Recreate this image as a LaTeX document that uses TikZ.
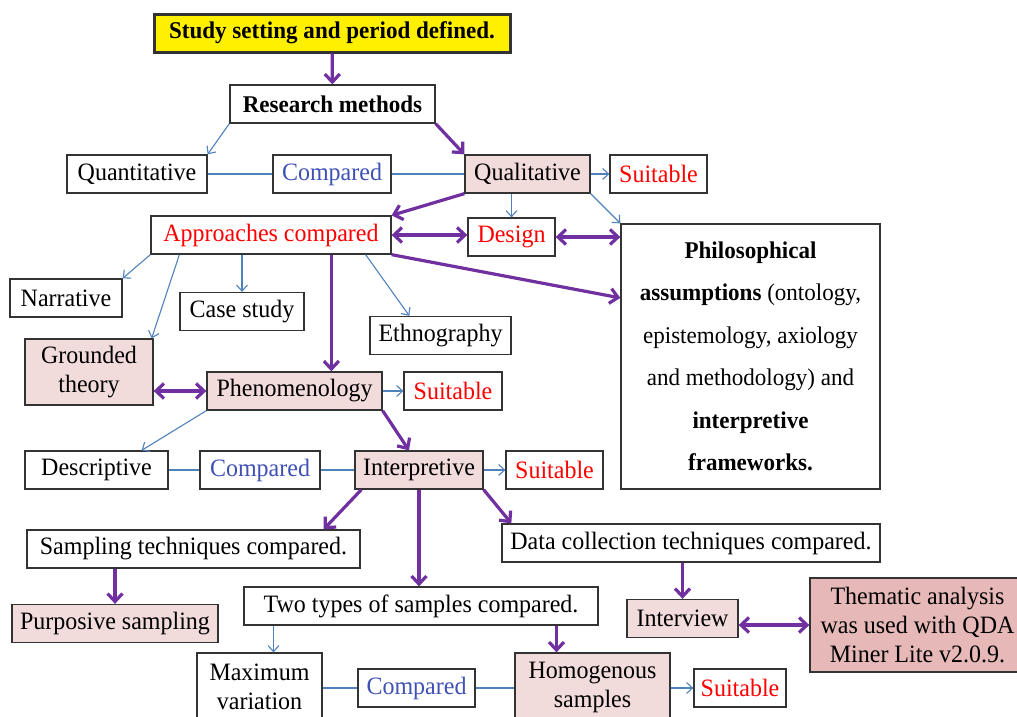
\documentclass[tikz,border=0pt]{standalone}
\usepackage{fontspec}
\setmainfont{Liberation Serif}[FakeStretch=0.96]
\definecolor{flpurple}{RGB}{112,48,160}
\definecolor{flblue}{RGB}{79,129,189}
\definecolor{flnavy}{RGB}{63,81,181}
\definecolor{flred}{RGB}{255,0,0}
\definecolor{flpink}{RGB}{242,220,219}
\definecolor{flrose}{RGB}{230,185,184}
\definecolor{flyellow}{RGB}{255,240,0}
\usetikzlibrary{arrows.meta,calc}

\begin{document}
\begin{tikzpicture}[x=1pt, y=-1pt,
    box/.style={rectangle, draw=black!80, line width=1.3pt, inner sep=0pt, minimum height=38pt,
      align=center, font=\fontsize{25}{29}\selectfont},
    pinkbox/.style={box, fill=flpink},
    suit/.style={box, text=flred},
    cmp/.style={box, text=flnavy},
    link/.style={flblue, line width=1.1pt},
    arr/.style={-{Straight Barb[length=6pt,width=11pt]}, flblue, line width=1.1pt},
    parr/.style={-{Straight Barb[length=8pt,width=15pt]}, flpurple, line width=3.2pt},
    pdbl/.style={{Straight Barb[length=8pt,width=15pt]}-{Straight Barb[length=8pt,width=15pt]},
      flpurple, line width=3.2pt}
  ]
    \useasboundingbox (0,0) rectangle (1017,716);
    % Start
    \node[box, fill=flyellow, line width=3pt, minimum width=356, font=\fontsize{24}{29}\selectfont\bfseries]
      (setting) at (332,33) {Study setting and period defined.};
    \node[box, minimum width=205, font=\fontsize{24}{29}\selectfont\bfseries] (methods) at (332.5,104)
      {Research methods};
    % Methods row
    \node[box, minimum width=140] (quant) at (137,174) {Quantitative};
    \node[cmp, minimum width=118] (cmpa) at (332,174) {Compared};
    \node[pinkbox, minimum width=125] (qual) at (527.5,174) {Qualitative};
    \node[suit, minimum width=97] (suita) at (658.5,174) {Suitable};
    % Approaches
    \node[suit, minimum width=240] (approach) at (271,235) {Approaches compared};
    \node[suit, minimum width=87] (design) at (511.5,237) {Design};
    \node[box, minimum width=259, minimum height=265, font=\fontsize{24}{42.5}\selectfont] (philo) at (750.5,356.5)
      {\textbf{Philosophical}\\\textbf{assumptions} (ontology,\\epistemology, axiology\\and methodology) and\\
       \textbf{interpretive}\\\textbf{frameworks.}};
    \node[box, minimum width=112] (narr) at (66,298) {Narrative};
    \node[box, minimum width=124] (case) at (242,311.5) {Case study};
    \node[box, minimum width=141] (ethno) at (440.5,335.5) {Ethnography};
    \node[pinkbox, minimum width=128, minimum height=66] (grounded) at (89,372) {Grounded\\theory};
    % Phenomenology
    \node[pinkbox, minimum width=175] (phen) at (294.5,391) {Phenomenology};
    \node[suit, minimum width=98] (suitb) at (453,391) {Suitable};
    \node[box, minimum width=143] (desc) at (96.5,470) {Descriptive};
    \node[cmp, minimum width=120] (cmpb) at (260,470) {Compared};
    \node[pinkbox, minimum width=128] (interp) at (419,470) {Interpretive};
    \node[suit, minimum width=97] (suitc) at (554.5,470) {Suitable};
    % Techniques
    \node[box, minimum width=333] (sampling) at (193.5,549) {Sampling techniques compared.};
    \node[box, minimum width=378] (datacol) at (691,543) {Data collection techniques compared.};
    \node[box, minimum width=354] (twotypes) at (421,606) {Two types of samples compared.};
    \node[pinkbox, minimum width=206] (purposive) at (115,623.5) {Purposive sampling};
    \node[pinkbox, minimum width=111] (interview) at (682.5,618.5) {Interview};
    \node[box, fill=flrose, minimum width=215, minimum height=94] (thematic) at (917.5,625)
      {Thematic analysis\\was used with QDA\\Miner Lite v2.0.9.};
    % Samples
    \node[box, minimum width=125, minimum height=68] (maxvar) at (259.5,687) {Maximum\\variation};
    \node[cmp, minimum width=117] (cmpc) at (416.5,688) {Compared};
    \node[pinkbox, minimum width=155, minimum height=68] (homog) at (592.5,687) {Homogenous\\samples};
    \node[suit, minimum width=92] (suitd) at (740,688) {Suitable};
    % Arrow ends off the centre lines
    \coordinate (phenfoot) at ($(approach.south west)!0.75!(approach.south east)$);
    \coordinate (maxtop) at ($(maxvar.north)+(14,0)$);
    \coordinate (homtop) at ($(homog.north)+(-36,0)$);
    % Arrows (purple path)
    \draw[parr] (setting) -- (methods);
    \draw[parr] (methods.south east) -- (qual.north west);
    \draw[parr] (qual.south west) -- (approach.north east);
    \draw[pdbl] (approach.east) -- (approach.east -| design.west);
    \draw[pdbl] (design.east) -- (design.east -| philo.west);
    \draw[parr] (approach.south east) -- ($(philo.north west)!0.28!(philo.south west)$);
    \draw[parr] (phenfoot) -- (phenfoot |- phen.north);
    \draw[pdbl] (grounded.east |- phen.west) -- (phen.west);
    \draw[parr] (phen.south east) -- ($(interp.north)+(-10,0)$);
    \draw[parr] ($(interp.south west)+(7,0)$) -- ($(sampling.north east)+(-37,0)$);
    \draw[parr] (interp.south) -- (interp.south |- twotypes.north);
    \draw[parr] (interp.south east) -- ($(datacol.north west)+(10,0)$);
    \draw[parr] (purposive.north |- sampling.south) -- (purposive.north);
    \draw[parr] (interview.north |- datacol.south) -- (interview.north);
    \draw[pdbl] (interview.east |- thematic.west) -- (thematic.west);
    \draw[parr] (homtop |- twotypes.south) -- (homtop);
    % Arrows (blue path)
    \draw[arr] (methods.south west) -- (quant.north east);
    \draw[link] (quant) -- (cmpa) (cmpa) -- (qual);
    \draw[arr] (qual) -- (suita);
    \draw[arr] (design.north |- qual.south) -- (design.north);
    \draw[arr] (qual.south east) -- (philo.north west);
    \draw[arr] (approach.south west) -- (narr.north east);
    \draw[arr] ($(approach.south west)+(29,0)$) -- ($(grounded.north east)+(-2,0)$);
    \draw[arr] (case.north |- approach.south) -- (case.north);
    \draw[arr] ($(approach.south east)+(-26,0)$) -- ($(ethno.north west)+(40,0)$);
    \draw[arr] (phen) -- (suitb);
    \draw[arr] (phen.south west) -- ($(desc.north east)+(-27,0)$);
    \draw[link] (desc) -- (cmpb) (cmpb) -- (interp);
    \draw[arr] (interp) -- (suitc);
    \draw[arr] (maxtop |- twotypes.south) -- (maxtop);
    \draw[link] (maxvar.east |- cmpc) -- (cmpc.west) (cmpc.east) -- (homog.west |- cmpc);
    \draw[arr] (homog.east |- suitd) -- (suitd.west);
  \end{tikzpicture}
\end{document}
